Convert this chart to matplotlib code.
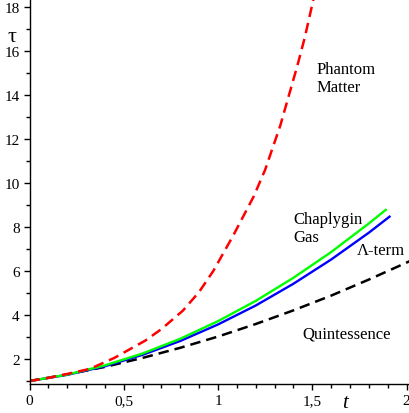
import numpy as np
import matplotlib
matplotlib.use("Agg")
import matplotlib.pyplot as plt
from matplotlib.ticker import MultipleLocator, FixedLocator, FixedFormatter

# values
t_phantom = [0, 0.1, 0.2, 0.32, 0.45, 0.613, 0.7, 0.814, 0.9, 0.975, 1.08,
             1.19, 1.25, 1.33, 1.42, 1.46, 1.505, 1.52]
tau_phantom = [1, 1.14, 1.32, 1.55, 2.05, 2.83, 3.36, 4.2, 5.05, 6.0, 7.6,
               9.4, 10.6, 12.6, 15.3, 16.6, 18.3, 18.9]

t_chap = [0, 0.2, 0.4, 0.6, 0.8, 1.0, 1.2, 1.4, 1.6, 1.8, 1.89]
tau_chap = [1, 1.29, 1.71, 2.25, 2.92, 3.72, 4.64, 5.69, 6.86, 8.16, 8.78]

t_lam = [0, 0.2, 0.4, 0.6, 0.8, 1.0, 1.2, 1.4, 1.6, 1.8, 1.91]
tau_lam = [1, 1.28, 1.67, 2.19, 2.82, 3.57, 4.43, 5.42, 6.52, 7.74, 8.47]

t_quint = [0, 0.2, 0.4, 0.6, 0.8, 1.0, 1.2, 1.4, 1.6, 1.8, 2.0, 2.02]
tau_quint = [1, 1.30, 1.64, 2.05, 2.51, 3.02, 3.59, 4.21, 4.88, 5.61, 6.38, 6.46]

x_ticks = [0, 0.5, 1, 1.5, 2]
x_labels = ["0", "0,5", "1", "1,5", "2"]
y_ticks = [2, 4, 6, 8, 10, 12, 14, 16, 18]

plt.rcParams['font.family'] = ['Liberation Serif', 'DejaVu Serif']

fig = plt.figure(figsize=(4.09, 4.14), dpi=100)
ax = fig.add_axes([29.5 / 409, 29 / 414, (409 - 29.5) / 409, 385 / 414])

ax.plot(t_quint, tau_quint, color='black', lw=1.8, dashes=(4.2, 2.4))
ax.plot(t_lam, tau_lam, color='#0000ff', lw=1.7)
ax.plot(t_chap, tau_chap, color='#00ff00', lw=1.7)
ax.plot(t_phantom, tau_phantom, color='#ff0000', lw=1.8, dashes=(4.2, 2.4))

ax.set_xlim(0, (409 - 29.5) / 188.5)
ax.set_ylim(1 - 3 / 22, 1 + 382 / 22)

for s in ['top', 'right']:
    ax.spines[s].set_visible(False)
for s in ['left', 'bottom']:
    ax.spines[s].set_linewidth(1.0)

ax.xaxis.set_major_locator(FixedLocator(x_ticks))
ax.xaxis.set_major_formatter(FixedFormatter(x_labels))
ax.xaxis.set_minor_locator(MultipleLocator(0.1))
ax.yaxis.set_major_locator(FixedLocator(y_ticks))
ax.yaxis.set_minor_locator(MultipleLocator(1))
ax.tick_params(which='major', direction='out', length=4, width=1, labelsize=11, pad=3)
ax.tick_params(which='minor', direction='out', length=3, width=1)

ax.text(1.525, 14.77, "Phantom\nMatter", fontsize=12, ha='left', va='center', linespacing=1.1)
ax.text(1.398, 7.95, "Chaplygin\nGas", fontsize=12, ha='left', va='center', linespacing=1.1)
ax.text(1.737, 6.95, "\u039b-term", fontsize=12, ha='left', va='center')
ax.text(1.446, 3.14, "Quintessence", fontsize=12, ha='left', va='center')

ax.text(-0.093, 16.68, "\u03c4", fontsize=16, ha='center', va='center', clip_on=False)
ax.text(1.674, 0.0, "t", fontsize=15, style='italic', ha='center', va='center', clip_on=False)

fig.savefig("out.png", dpi=100)
